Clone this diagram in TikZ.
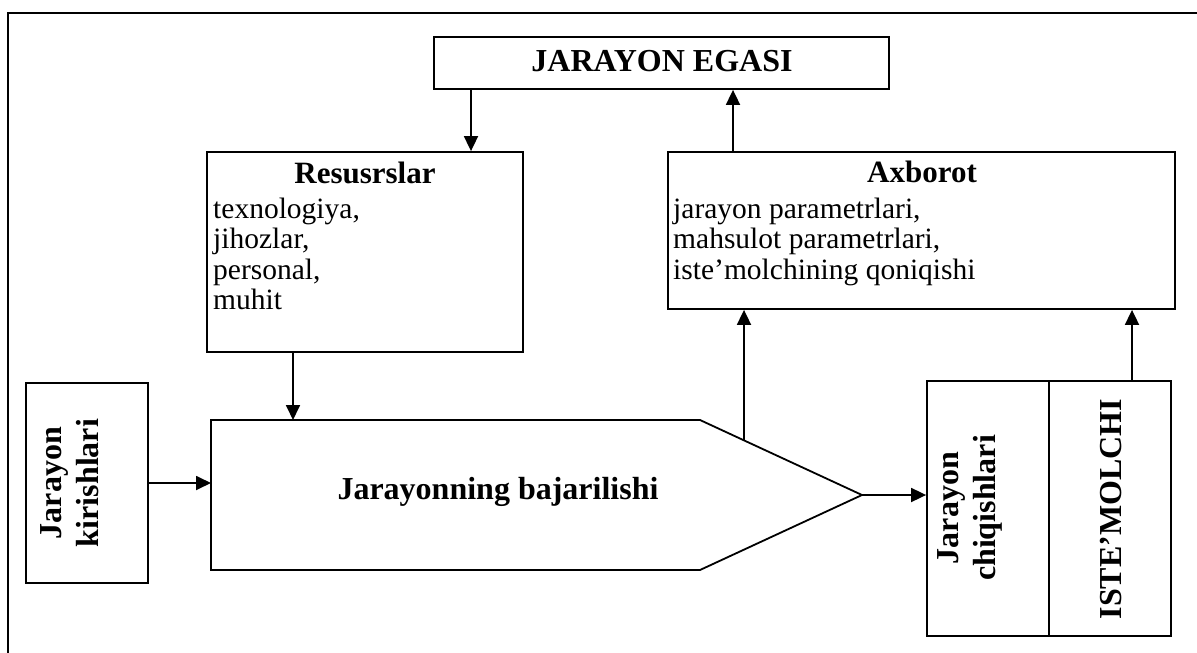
\documentclass[tikz,border=0pt]{standalone}
\usepackage{fontspec}
\setmainfont{Liberation Serif}
\usetikzlibrary{arrows.meta,calc}
\begin{document}
\begin{tikzpicture}[x=1pt,y=-1pt,
  box/.style={draw, line width=1.8pt, inner sep=0pt},
  link/.style={line width=1.8pt, -{Triangle[length=15pt,width=14pt]}},
  head/.style={font=\fontsize{32}{37}\selectfont\bfseries, inner sep=0pt},
  subhead/.style={font=\fontsize{31}{36}\selectfont\bfseries, inner sep=0pt, anchor=base},
  body/.style={font=\fontsize{29.5}{31}\selectfont, inner sep=0pt, anchor=base west},
]
\useasboundingbox (0,0) rectangle (1197,653);

% outer frame
\draw[line width=1.8pt] (8,653) -- (8,13) -- (1197,13);

% boxes
\node[box, minimum width=455, minimum height=52] (owner) at (661.5,63) {};
\node[box, minimum width=316, minimum height=200] (res) at (365,252) {};
\node[box, minimum width=507, minimum height=157] (info) at (921.5,230.5) {};
\node[box, minimum width=122, minimum height=200] (inbox) at (87,483) {};
\node[box, minimum width=122, minimum height=255] (outbox) at (988,508.5) {};
\node[box, minimum width=122, minimum height=255] (cons) at (1110,508.5) {};

% process shape (arrow-shaped pentagon)
\coordinate (p1) at (211,420);
\coordinate (p2) at (700,420);
\coordinate (p3) at (862,495);
\coordinate (p4) at (700,570);
\coordinate (p5) at (211,570);
\draw[line width=1.8pt, line join=miter] (p1) -- (p2) -- (p3) -- (p4) -- (p5) -- cycle;
\coordinate (s) at ($(p2)!0.2716!(p3)$);

% texts
\node[head, anchor=base] (ownert) at (662,71) {JARAYON EGASI};

\node[subhead] (rest) at (365,183) {Resusrslar};
\node[body] (r1) at (213,218) {texnologiya,};
\node[body] (r2) at (213,248.5) {jihozlar,};
\node[body] (r3) at (213,279) {personal,};
\node[body] (r4) at (213,309.5) {muhit};

\node[subhead] (infot) at (922,182) {Axborot};
\node[body] (i1) at (673,218) {jarayon parametrlari,};
\node[body] (i2) at (673,248.5) {mahsulot parametrlari,};
\node[body] (i3) at (673,279) {iste’molchining qoniqishi};

\node[head, anchor=base] (proc) at (498,499) {Jarayonning bajarilishi};

\node[head, rotate=90, align=center] (int) at (70,483) {Jarayon\\kirishlari};
\node[head, rotate=90, align=center] (outt) at (970,508) {Jarayon\\chiqishlari};
\node[head, rotate=90] (const) at (1111,509) {ISTE’MOLCHI};

% connectors
\draw[link] (471,0 |- owner.south) -- (471,0 |- res.north);
\draw[link] (733,0 |- info.north) -- (733,0 |- owner.south);
\draw[link] (293,0 |- res.south) -- (293,0 |- p1);
\draw[link] (inbox.east) -- (inbox.east -| p1);
\draw[link] (s) -- (s |- info.south);
\draw[link] (p3) -- (p3 -| outbox.west);
\draw[link] (1132,0 |- cons.north) -- (1132,0 |- info.south);
\end{tikzpicture}
\end{document}
